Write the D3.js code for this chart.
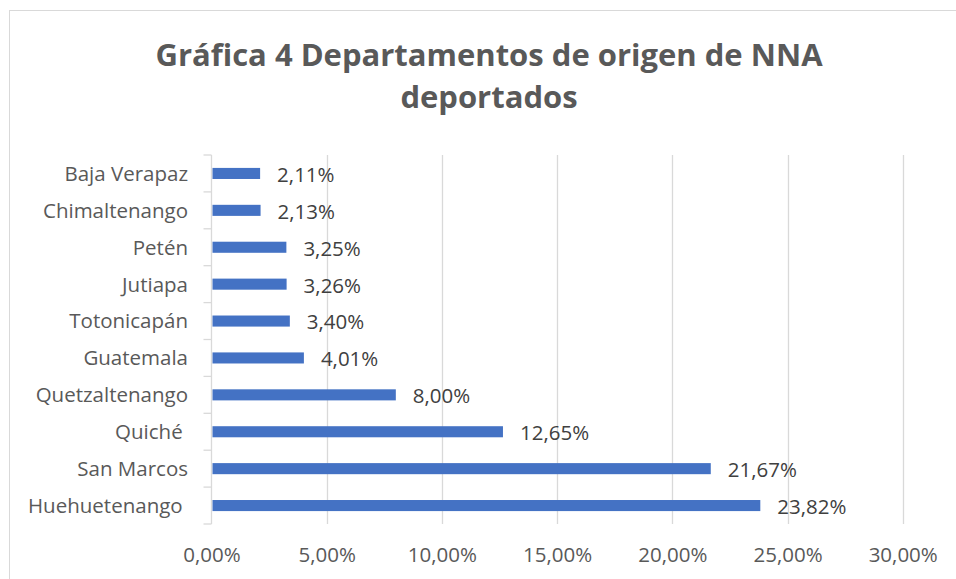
<!DOCTYPE html>
<html>
<head>
<meta charset="utf-8">
<script src="https://cdn.jsdelivr.net/npm/d3@7"></script>
<style>
  html, body { margin: 0; padding: 0; background: #fff; }
  svg { display: block; }
  text { white-space: pre; }
</style>
</head>
<body>
<svg id="chart" width="956" height="579"></svg>
<script>
const categories = ["Baja Verapaz", "Chimaltenango", "Petén", "Jutiapa", "Totonicapán",
  "Guatemala", "Quetzaltenango", "Quiché ", "San Marcos", "Huehuetenango "];
const values = [2.11, 2.13, 3.25, 3.26, 3.40, 4.01, 8.00, 12.65, 21.67, 23.82];
const tickValues = [0, 5, 10, 15, 20, 25, 30];
const titleLines = ["Gráfica 4 Departamentos de origen de NNA", "deportados"];

const fmt = v => v.toFixed(2).replace(".", ",") + "%";
const FONT = "'Open Sans', 'DejaVu Sans', sans-serif";
const FS = 20.5;

const svg = d3.select("#chart");

// outer border
svg.append("rect")
  .attr("x", 9.5).attr("y", 10.5).attr("width", 1000).attr("height", 700)
  .attr("fill", "#fff").attr("stroke", "#d9d9d9").attr("stroke-width", 1);

const x = d3.scaleLinear().domain([0, 30]).range([211.5, 902.7]);
const y = d3.scaleBand().domain(categories).range([155, 524])
  .paddingInner(0.7).paddingOuter(0.35);

// gridlines
svg.append("g").selectAll("line").data(tickValues.filter(d => d > 0)).join("line")
  .attr("x1", d => Math.round(x(d)) + 0.5).attr("x2", d => Math.round(x(d)) + 0.5)
  .attr("y1", 155).attr("y2", 524)
  .attr("stroke", "#d9d9d9").attr("stroke-width", 1.3);

// y axis line and ticks
const yAxisG = svg.append("g");
yAxisG.append("line")
  .attr("x1", x(0)).attr("x2", x(0)).attr("y1", 155).attr("y2", 524)
  .attr("stroke", "#d9d9d9").attr("stroke-width", 1.3);
const bounds = d3.range(categories.length + 1).map(i => 155 + i * y.step());
yAxisG.selectAll("line.tk").data(bounds).join("line").attr("class", "tk")
  .attr("x1", x(0) - 8).attr("x2", x(0))
  .attr("y1", d => d).attr("y2", d => d)
  .attr("stroke", "#d9d9d9").attr("stroke-width", 1.3);

// category labels
svg.append("g").selectAll("text").data(categories).join("text")
  .attr("x", 188).attr("y", d => y(d) + y.bandwidth() / 2)
  .attr("dy", "0.36em")
  .attr("text-anchor", "end")
  .attr("font-family", FONT).attr("font-size", FS)
  .attr("fill", "#595959")
  .text(d => d);

// bars
svg.append("g").selectAll("rect").data(values).join("rect")
  .attr("x", x(0) + 1)
  .attr("y", (d, i) => y(categories[i]))
  .attr("width", d => x(d) - x(0) - 1)
  .attr("height", y.bandwidth())
  .attr("fill", "#4472c4");

// data labels
svg.append("g").selectAll("text").data(values).join("text")
  .attr("x", d => x(d) + 17)
  .attr("y", (d, i) => y(categories[i]) + y.bandwidth() / 2 + 1)
  .attr("dy", "0.36em")
  .attr("font-family", FONT).attr("font-size", FS)
  .attr("fill", "#404040")
  .text(d => fmt(d));

// x axis tick labels
const xAxis = d3.axisBottom(x).tickValues(tickValues).tickSize(0).tickFormat(fmt);
const xg = svg.append("g").attr("transform", "translate(0,540)").call(xAxis);
xg.select(".domain").remove();
xg.selectAll("text")
  .attr("font-family", FONT).attr("font-size", FS)
  .attr("fill", "#595959").attr("dy", "0.92em");

// title
const title = svg.append("g");
title.selectAll("text").data(titleLines).join("text")
  .attr("x", 489).attr("y", (d, i) => 66 + i * 42)
  .attr("text-anchor", "middle")
  .attr("font-family", FONT).attr("font-weight", "bold").attr("font-size", 31)
  .attr("fill", "#595959")
  .text(d => d);
</script>
</body>
</html>
